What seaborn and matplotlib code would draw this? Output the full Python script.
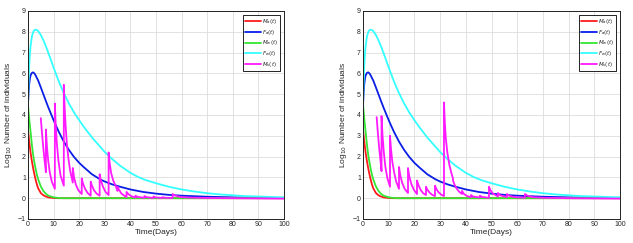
import numpy as np
import pandas as pd
import seaborn as sns
import matplotlib
matplotlib.use("Agg")
import matplotlib.pyplot as plt

# curves (time in days, log10 of individuals)
t_fw = [0, 0.25, 0.5, 0.75, 1, 1.5, 2, 2.5, 3, 3.5, 4, 5, 6, 7, 8, 9, 10, 11,
        12, 13, 14, 16, 18, 20, 22, 25, 28, 30, 33, 36, 40, 43, 46, 50, 55, 60,
        65, 70, 75, 80, 85, 90, 95, 100]
fw = [4.5, 5.6, 6.4, 6.95, 7.3, 7.75, 7.98, 8.08, 8.1, 8.08, 8.03, 7.85, 7.6,
      7.3, 6.97, 6.63, 6.28, 5.95, 5.63, 5.33, 5.05, 4.55, 4.12, 3.75, 3.4,
      2.92, 2.5, 2.22, 1.87, 1.56, 1.22, 1.02, 0.87, 0.72, 0.55, 0.42, 0.32,
      0.24, 0.18, 0.14, 0.1, 0.08, 0.06, 0.04]

t_fa = [0, 0.25, 0.5, 0.75, 1, 1.5, 2, 2.5, 3, 4, 5, 6, 7, 8, 9, 10, 11, 12,
        14, 16, 18, 20, 22, 25, 28, 30, 33, 36, 40, 45, 50, 55, 60, 70, 80, 90,
        100]
fa = [4.5, 5.1, 5.5, 5.75, 5.9, 6.02, 6.05, 6.0, 5.9, 5.65, 5.33, 5.0, 4.67,
      4.35, 4.05, 3.75, 3.47, 3.2, 2.72, 2.32, 1.98, 1.7, 1.47, 1.15, 0.92,
      0.8, 0.66, 0.55, 0.42, 0.3, 0.22, 0.16, 0.12, 0.07, 0.04, 0.02, 0.01]

t_ma = [0, 0.5, 1, 1.5, 2, 2.5, 3, 3.5, 4, 5, 6, 7, 8, 10, 12, 100]
ma = [3.3, 2.7, 2.2, 1.8, 1.45, 1.15, 0.88, 0.65, 0.47, 0.25, 0.14, 0.08, 0.04,
      0.01, 0.0, 0.0]

t_mw = [0, 0.5, 1, 1.5, 2, 2.5, 3, 3.5, 4, 5, 6, 7, 8, 10, 12, 14, 100]
mw = [4.5, 3.8, 3.2, 2.6, 2.1, 1.72, 1.4, 1.12, 0.9, 0.57, 0.35, 0.21, 0.12,
      0.04, 0.01, 0.0, 0.0]

# sterile males, left panel
t_ms1 = [5, 5.5, 6, 6.5, 7,
         7, 7.4, 7.9, 8.5, 9.3, 10.5,
         10.5, 10.8, 11.3, 11.9, 12.7, 14,
         14, 14.3, 14.7, 15.2, 15.8, 16.5, 17.5,
         17.5, 18, 18.7, 19.7, 21,
         21, 21.5, 22.3, 23.3, 24.5,
         24.5, 25, 25.8, 26.8, 28,
         28, 28.5, 29.3, 30.3, 31.5,
         31.5, 31.9, 32.5, 33.3, 34.2, 35,
         35, 35.6, 36.5, 38.5,
         38.5, 39.2, 40.3, 42,
         42, 42.8, 45.5, 45.5, 46.3, 49, 49, 49.8, 52.5, 52.5, 53.5, 56.5,
         56.5, 57.3, 58.5, 60, 63, 70, 80, 90, 100]
ms1 = [3.85, 3.1, 2.4, 1.8, 1.25,
       3.3, 2.5, 1.8, 1.25, 0.8, 0.45,
       4.55, 3.6, 2.6, 1.8, 1.1, 0.6,
       5.45, 4.4, 3.5, 2.6, 1.9, 1.3, 0.75,
       1.45, 1.0, 0.65, 0.38, 0.2,
       0.95, 0.7, 0.45, 0.25, 0.12,
       0.8, 0.6, 0.38, 0.22, 0.12,
       1.15, 0.85, 0.55, 0.3, 0.15,
       2.2, 1.7, 1.2, 0.85, 0.6, 0.35,
       0.55, 0.4, 0.22, 0.05,
       0.3, 0.2, 0.1, 0.03,
       0.12, 0.06, 0.02, 0.1, 0.05, 0.01, 0.08, 0.04, 0.01, 0.05, 0.02, 0.01,
       0.2, 0.14, 0.09, 0.05, 0.03, 0.01, 0.0, -0.01, -0.02]

# sterile males, right panel
t_ms2 = [5.3, 5.8, 6.3, 6.8, 7.2,
         7.2, 7.6, 8.1, 8.7, 9.5, 10.5,
         10.5, 10.9, 11.4, 12.1, 12.9, 14,
         14, 14.5, 15.2, 16.2, 17.5,
         17.5, 18, 18.8, 19.8, 21,
         21, 21.6, 22.4, 23.4, 24.5,
         24.5, 25, 25.8, 26.8, 28,
         28, 28.5, 29.3, 30.3, 31.5,
         31.5, 31.8, 32.2, 32.8, 33.6, 34.4, 35,
         35, 35.6, 36.5, 37.5, 38.5,
         38.5, 39.3, 40.5, 42,
         42, 42.8, 45.5, 45.5, 46.3, 49,
         49, 49.6, 50.5, 52.5,
         52.5, 53.3, 56, 56, 56.8, 59, 63, 63, 64, 66, 70, 80, 90, 100]
ms2 = [3.9, 3.1, 2.4, 1.8, 1.3,
       3.95, 3.0, 2.2, 1.5, 0.95, 0.55,
       3.0, 2.35, 1.75, 1.25, 0.8, 0.45,
       1.5, 1.1, 0.75, 0.45, 0.25,
       1.45, 1.05, 0.68, 0.4, 0.2,
       0.85, 0.62, 0.4, 0.24, 0.15,
       0.55, 0.42, 0.28, 0.17, 0.1,
       0.6, 0.45, 0.3, 0.18, 0.1,
       4.6, 3.7, 2.9, 2.2, 1.6, 1.2, 0.95,
       0.85, 0.65, 0.45, 0.3, 0.2,
       0.35, 0.2, 0.1, 0.05,
       0.15, 0.08, 0.03, 0.12, 0.06, 0.02,
       0.55, 0.38, 0.22, 0.08,
       0.25, 0.14, 0.05, 0.2, 0.12, 0.05, 0.02, 0.2, 0.12, 0.05, 0.02, 0.0,
       -0.01, -0.02]

labels = ["$M_a(t)$", "$F_a(t)$", "$M_w(t)$", "$F_w(t)$", "$M_s(t)$"]
colors = ["#ff1a1a", "#0a1ee6", "#33e633", "#33ffff", "#ff1aff"]

sns.set_style("white")
plt.rcParams["font.family"] = ["Liberation Sans", "DejaVu Sans"]

fig = plt.figure(figsize=(6.33, 2.43), dpi=100)
boxes = [[0.0442, 0.0988, 0.4044, 0.856], [0.5735, 0.0988, 0.406, 0.856]]

for box, (t_ms, ms) in zip(boxes, [(t_ms1, ms1), (t_ms2, ms2)]):
    ax = fig.add_axes(box)
    series = [(t_ma, ma), (t_fa, fa), (t_mw, mw), (t_fw, fw), (t_ms, ms)]
    for (tx, vy), lab, col in zip(series, labels, colors):
        sns.lineplot(x=tx, y=vy, ax=ax, color=col, label=lab, lw=1.3,
                     sort=False, estimator=None)
    ax.set_xlim(0, 100)
    ax.set_ylim(-1, 9)
    ax.set_xticks(range(0, 101, 10))
    ax.set_yticks(range(-1, 10))
    ax.grid(True, color="#dddddd", lw=0.6)
    ax.tick_params(direction="in", length=2, labelsize=5, pad=1.5, width=0.5)
    for sp in ax.spines.values():
        sp.set_color("#222222")
        sp.set_linewidth(0.7)
    ax.set_xlabel("Time(Days)", fontsize=6, labelpad=1)
    ax.set_ylabel("Log$_{10}$ Number of individuals", fontsize=6, labelpad=3)
    leg = ax.legend(loc="upper right", fontsize=4, frameon=True, fancybox=False,
                    handlelength=2.8, borderpad=0.35, labelspacing=0.3,
                    handletextpad=0.3, borderaxespad=0.2,
                    bbox_to_anchor=(0.99, 0.985))
    leg.get_frame().set_edgecolor("black")
    leg.get_frame().set_linewidth(0.6)
    leg.get_frame().set_alpha(1)

fig.savefig("out.png", dpi=100)
